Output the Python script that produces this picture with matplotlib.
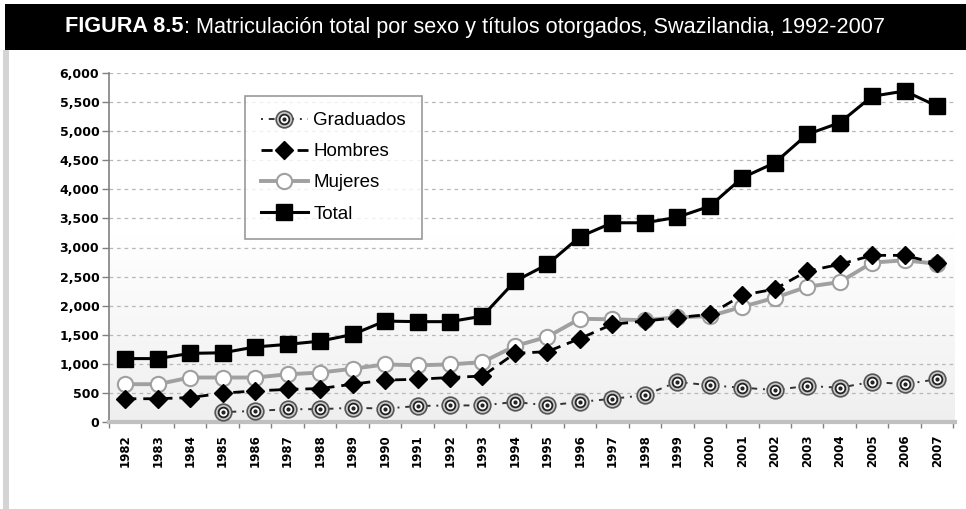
import numpy as np
import matplotlib.pyplot as plt
from matplotlib.patches import Rectangle

years = [str(y) for y in range(1982, 2008)]
total = [1090, 1090, 1180, 1190, 1290, 1335, 1390, 1505, 1735, 1725, 1725, 1820,
         2420, 2710, 3185, 3425, 3425, 3520, 3710, 4200, 4455, 4945, 5145, 5600, 5690, 5430]
mujeres = [650, 650, 765, 765, 765, 820, 850, 915, 990, 975, 990, 1030,
           1305, 1465, 1775, 1765, 1750, 1800, 1820, 1980, 2135, 2325, 2405, 2740, 2780, 2720]
hombres = [400, 400, 420, 495, 535, 560, 575, 650, 720, 735, 765, 790,
           1180, 1210, 1435, 1680, 1735, 1795, 1850, 2180, 2285, 2595, 2710, 2865, 2865, 2725]
graduados = [np.nan, np.nan, np.nan, 170, 190, 220, 220, 245, 230, 275, 285, 285,
             345, 285, 345, 400, 460, 690, 630, 590, 550, 620, 590, 690, 650, 735]
yticks = list(range(0, 6001, 500))

W, H = 966, 509
fig = plt.figure(figsize=(W / 100, H / 100), dpi=100)
fig.patch.set_facecolor('white')

# title bar and left border
fig.patches.append(Rectangle((5 / W, 1 - 50 / H), 1, 46 / H, transform=fig.transFigure,
                             facecolor='black', edgecolor='none', zorder=0))
fig.patches.append(Rectangle((3 / W, 0), 6 / W, 1 - 50 / H, transform=fig.transFigure,
                             facecolor='#d4d4d4', edgecolor='none', zorder=0))

t1 = fig.text(65 / W, 1 - 27 / H, 'FIGURA 8.5', color='white', fontsize=15.6,
              fontweight='bold', family='Liberation Sans', va='center', ha='left')
fig.canvas.draw()
bb = t1.get_window_extent()
fig.text(bb.x1 / W, 1 - 27 / H,
         ': Matriculación total por sexo y títulos otorgados, Swazilandia, 1992-2007',
         color='white', fontsize=15.6, family='Liberation Sans', va='center', ha='left')

ax = fig.add_axes([109 / W, 1 - 422 / H, (955 - 109) / W, (422 - 73) / H])
x = np.arange(len(years))

# gradient background
grad = np.linspace(0, 1, 256).reshape(-1, 1)
grad = np.clip((0.55 - grad) / 0.55, 0, 1)
ax.imshow(grad, extent=[0, 1, 0, 1], transform=ax.transAxes, origin='lower',
          cmap='Greys', vmin=0, vmax=7.5, aspect='auto', zorder=0)

ax.set_xlim(-0.5, 25.55)
ax.set_ylim(0, 6000)
ax.set_yticks(yticks)
ax.set_yticklabels([f'{v:,}' for v in yticks])
ax.yaxis.grid(True, color='#b8b8b8', linestyle=(0, (3, 3)), linewidth=0.9, zorder=1)
ax.set_axisbelow(True)

l_tot, = ax.plot(x, total, color='black', lw=2.2, marker='s', ms=11.5,
                 mfc='black', mec='black', zorder=5)
l_muj, = ax.plot(x, mujeres, color='#a0a0a0', lw=2.8, marker='o', ms=11,
                 mfc='white', mec='#a0a0a0', mew=1.5, zorder=4)
l_hom, = ax.plot(x, hombres, color='black', lw=2, linestyle=(0, (4, 2.5)), marker='D',
                 ms=9.5, mfc='black', mec='black', zorder=6)
l_gra, = ax.plot(x, graduados, color='#333333', lw=1.4, linestyle=(0, (1, 3, 3, 3)),
                 marker='o', ms=12, mfc='#c8c8c8', mec='#555555', mew=1.2, zorder=3)
l_gra2, = ax.plot(x, graduados, linestyle='none', marker='o', ms=7, mfc='white',
                  mec='#222222', mew=1.3, zorder=3)
l_gra3, = ax.plot(x, graduados, linestyle='none', marker='o', ms=2, mfc='#222222',
                  mec='#222222', zorder=3)

ax.set_xticks(x)
ax.set_xticklabels(years, rotation=90)
ax.set_xticks(np.arange(-0.5, 25.6, 1), minor=True)
ax.tick_params(axis='x', which='major', length=0, pad=9, labelsize=8.5)
ax.tick_params(axis='x', which='minor', length=4, color='#808080', width=1)
ax.tick_params(axis='y', length=5, color='#808080', width=1, labelsize=9, pad=2)
for lab in ax.get_xticklabels() + ax.get_yticklabels():
    lab.set_fontweight('bold')

for s in ['top', 'right']:
    ax.spines[s].set_visible(False)
ax.spines['left'].set_color('#808080')
ax.spines['left'].set_linewidth(1.2)
ax.spines['bottom'].set_color('#c0c0c0')
ax.spines['bottom'].set_linewidth(3)

leg = ax.legend([(l_gra, l_gra2, l_gra3), l_hom, l_muj, l_tot],
                ['Graduados', 'Hombres', 'Mujeres', 'Total'],
                loc='upper left',
                bbox_to_anchor=((245 - 109) / (955 - 109), 1 - (96 - 73) / (422 - 73)),
                borderaxespad=0, frameon=True, fancybox=False, handlelength=2.5,
                handletextpad=0.3, labelspacing=0.75, borderpad=0.85,
                prop={'family': 'Liberation Sans', 'size': 13.5})
leg.get_frame().set_edgecolor('#808080')
leg.get_frame().set_linewidth(1.2)

fig.savefig('out.png', dpi=100)
